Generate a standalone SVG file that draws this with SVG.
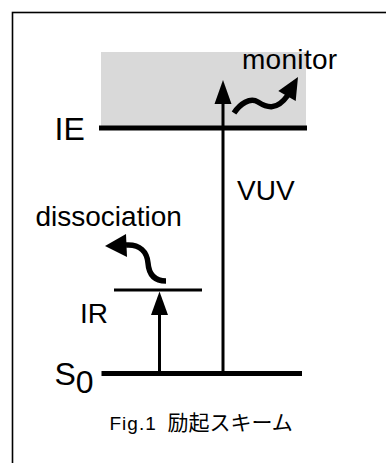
<svg xmlns="http://www.w3.org/2000/svg" width="386" height="463" viewBox="0 0 386 463">
<style>
.lbl{font-family:"Liberation Sans",Arial,sans-serif;fill:#000}
.lvl{stroke:#000;fill:none}
.ln{stroke:#000;stroke-width:3;fill:none}
.sq{stroke:#000;stroke-width:5.5;fill:none;stroke-linecap:butt}
.ah{fill:#000;stroke:none}
</style>
<rect x="12.5" y="12.5" width="420" height="520" fill="#fff" stroke="#000" stroke-width="1.6"/>
<g id="continuum">
<rect x="101" y="52" width="205" height="76" fill="#d9d9d9"/>
</g>
<g id="level-IE">
<line class="lvl" x1="99" y1="128" x2="307" y2="128" stroke-width="5"/>
<text class="lbl" x="54.5" y="139.5" font-size="32">IE</text>
</g>
<g id="level-IR">
<line class="lvl" x1="114" y1="290" x2="202" y2="290" stroke-width="3"/>
<text class="lbl" x="80" y="322.5" font-size="28">IR</text>
</g>
<g id="level-S0">
<line class="lvl" x1="101.5" y1="373.5" x2="302" y2="373.5" stroke-width="5"/>
<text class="lbl" x="54.5" y="384.5" font-size="32">S<tspan dy="8.5">0</tspan></text>
</g>
<g id="label-monitor"><text class="lbl" x="242" y="69" font-size="28" letter-spacing="0.3">monitor</text></g>
<g id="label-dissociation"><text class="lbl" x="35.5" y="225.5" font-size="28">dissociation</text></g>
<g id="label-VUV"><text class="lbl" x="237" y="199.5" font-size="28">VUV</text></g>
<g id="connectors">
<line class="ln" x1="223" y1="373" x2="223" y2="102"/>
<polygon class="ah" points="223,80 214.5,104 231.5,104"/>
<line class="ln" x1="159.5" y1="373" x2="159.5" y2="312"/>
<polygon class="ah" points="159.5,291.5 151,315 168,315"/>
<path class="sq" d="M234 113 C240 104,250 97,258 102 C266 107,276 112,288 95"/>
<polygon class="ah" points="298,77 278.3,91 295.7,101"/>
<path class="sq" d="M126 245 C140 244,147 252,148 263 C149 276,156 281,166 281"/>
<polygon class="ah" points="105,246 126,234 127,257"/>
</g>
<g id="caption"><text class="lbl" x="109.5" y="429.5" font-size="19" letter-spacing="1" style="white-space:pre">Fig.1  <tspan x="167.5" letter-spacing="0" font-family="'Liberation Sans','Noto Sans CJK JP',sans-serif" font-size="21">励起スキーム</tspan></text></g>
</svg>
